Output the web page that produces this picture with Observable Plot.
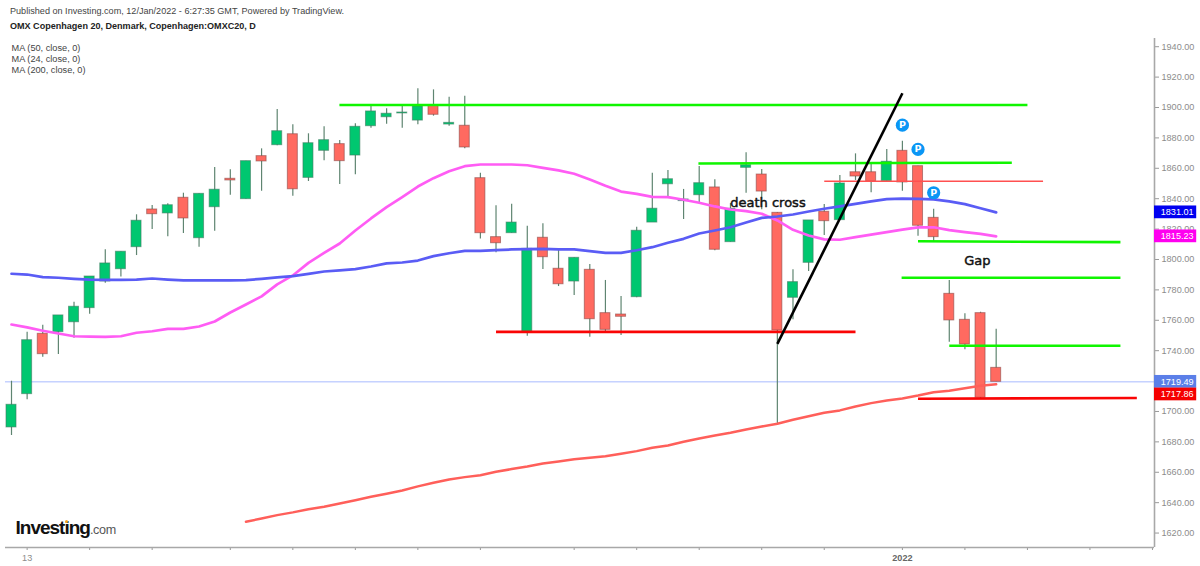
<!DOCTYPE html>
<html><head><meta charset="utf-8">
<script src="https://cdn.jsdelivr.net/npm/d3@7"></script>
<script src="https://cdn.jsdelivr.net/npm/@observablehq/plot@0.6"></script>
<style>
html,body{margin:0;padding:0;background:#fff;overflow:hidden}
#page{position:relative;width:1200px;height:566px;font-family:"Liberation Sans",Arial,sans-serif}
#page svg{position:absolute;left:0;top:0}
.t{position:absolute;white-space:nowrap;z-index:2;line-height:11px}
#pub{left:10px;top:6px;font-size:9.1px;color:#444}
#ttl{left:10px;top:21px;font-size:9.05px;font-weight:bold;color:#222}
.ma{left:11.5px;font-size:9.2px;color:#444}
#logo{left:15.5px;top:520px;line-height:16px;font-size:19px;font-weight:bold;color:#111;letter-spacing:-1px}
#logo span{font-size:12.6px;font-weight:normal;color:#555;letter-spacing:-.3px}
#dot{left:65px;top:519.5px;width:3px;height:3px;border-radius:50%;background:#f5a623}
</style></head><body>
<div id="page">
<div class="t" id="pub">Published on Investing.com, 12/Jan/2022 - 6:27:35 GMT, Powered by TradingView.</div>
<div class="t" id="ttl">OMX Copenhagen 20, Denmark, Copenhagen:OMXC20, D</div>
<div class="t ma" style="top:42.5px">MA (50, close, 0)</div>
<div class="t ma" style="top:53.5px">MA (24, close, 0)</div>
<div class="t ma" style="top:64.5px">MA (200, close, 0)</div>
<div class="t" id="logo">Investing<span>.com</span></div>
<div class="t" id="dot"></div>
</div>
<script>
const opens=[1689.5,1711.4,1751.1,1752.2,1758.7,1768,1785.5,1793.6,1808.1,1832.9,1830.3,1840.6,1814,1834.4,1853.1,1839.7,1868,1875.2,1882.4,1853.7,1871.5,1875.9,1868.4,1887.7,1893.6,1896.1,1891.4,1901.1,1888.8,1888,1853.5,1814.7,1817.3,1751.8,1814.3,1793.9,1785.5,1793.2,1764.7,1763.8,1775.2,1824.3,1849.5,1838.4,1842.3,1847.4,1811.4,1860.3,1855.9,1830.7,1774.8,1797.8,1831.4,1825.9,1857.4,1857.4,1851.5,1871.5,1861.4,1827.4,1777.4,1760.3,1764.7,1728.7];
const highs=[1719.9,1752.2,1756.8,1763.2,1771.9,1788.8,1806.4,1805.1,1829.4,1835.5,1836.6,1843.6,1843.2,1860.5,1859,1864.7,1872.8,1898.7,1888.6,1882.7,1887.3,1878.3,1889.3,1901.3,1899.1,1902,1912.3,1911.6,1906.8,1907.4,1856.8,1835.3,1836.4,1821.9,1823.5,1805.9,1801.1,1796.7,1786.2,1775.7,1821.2,1856.8,1858.6,1846.1,1861.2,1852.4,1836.8,1870.2,1859.2,1830.9,1793.2,1825.7,1836.2,1855.3,1869.5,1863.4,1872.4,1877.8,1861.4,1833.1,1786.2,1764.3,1765.3,1754.1];
const lows=[1684.2,1707.7,1735.7,1737.5,1748.2,1764,1784.4,1788.4,1802.6,1819.7,1814.9,1817.1,1808.1,1818.6,1842.3,1839.7,1844.9,1874.8,1841.6,1851.3,1864.9,1849.3,1855.7,1886.4,1889,1886.4,1888.6,1894.3,1887.7,1872.8,1813.4,1804.4,1817.3,1749.5,1793.4,1782.2,1776.3,1748.9,1751.8,1750,1774.8,1824.3,1840.6,1826.3,1837,1805.7,1811.4,1843.6,1832.7,1690.8,1760.3,1792.1,1815.8,1825.9,1852,1843.9,1851.5,1844.9,1815.3,1811.6,1745.6,1740.6,1708.4,1719.49];
const closes=[1704.4,1746.9,1737.7,1763.2,1768.9,1788.8,1797.4,1805.1,1825.5,1829.8,1835.7,1827,1843.2,1845.9,1852,1864.7,1864.5,1884.4,1846.2,1876.5,1878.5,1864.7,1887.3,1897.4,1895.9,1896.7,1900.7,1895.2,1889.9,1873.7,1817.3,1810.7,1824.3,1807,1801.5,1783.7,1801.1,1760.7,1753.7,1762.3,1818.9,1833.4,1852.8,1839.5,1850.2,1806.4,1833.4,1862,1844.7,1753.3,1785.1,1825.7,1825.2,1850,1854.6,1851.3,1864.3,1850.7,1822.2,1814.7,1759.9,1744.1,1709,1719.49];
const ma50=[1790.6,1790.1,1788.4,1788,1787.3,1786.8,1786.6,1786.6,1786.8,1787.5,1786.8,1786.2,1786.2,1786.2,1786.2,1786.4,1787.3,1788.2,1789.1,1790.5,1792.1,1792.8,1793.7,1795.4,1797.4,1798,1799.3,1802.2,1804.1,1805.7,1805.7,1806.1,1806.6,1806.8,1807,1806.6,1806.6,1805.5,1804.4,1804.4,1806.1,1808.1,1811,1813.6,1817.1,1819.1,1821.2,1824.3,1827.4,1828.3,1829.6,1831.6,1833.4,1834.9,1836.6,1838.2,1839.7,1840.1,1839.9,1839.5,1838.2,1836.4,1833.7,1831.01];
const ma24=[1757.2,1755.3,1753.1,1751.3,1749.5,1749.3,1749.1,1749.5,1751.8,1752.8,1754.4,1754.4,1755.9,1759.2,1765.1,1770.4,1775.7,1783.6,1789.5,1797.8,1804.3,1810.5,1819.1,1827,1834.5,1841.1,1848,1853.5,1858.1,1861.4,1862.5,1862.5,1862.5,1862,1860.3,1858.6,1856.4,1852.6,1848.5,1844.7,1843.2,1841.2,1841,1839.3,1837.3,1834.9,1832.9,1831.8,1830.1,1825.7,1819.5,1815.8,1813.2,1813,1814.7,1816.4,1818,1819.7,1821.1,1821.2,1819.3,1818,1816.9,1815.23];
const ma200Start=15;
const ma200=[1627.4,1629.6,1631.8,1633.6,1635.7,1637.3,1639.5,1641.6,1643.9,1645.9,1648,1650.7,1653.1,1655.3,1656.8,1658.1,1660.3,1662.1,1663.8,1665.8,1667.1,1668.6,1669.5,1670.6,1672.2,1673.9,1676.1,1677.6,1680.1,1682.2,1684.2,1686,1688.2,1690.1,1691.9,1694.5,1696.9,1699.1,1700.7,1703.3,1705.5,1707.2,1708.6,1710.5,1712.7,1713.6,1715.3,1716.9,1717.86];
const yTicks=[1620,1640,1660,1680,1700,1720,1740,1760,1780,1800,1820,1840,1860,1880,1900,1920,1940];
const xTicks=[1,5,9,14,18,22,26,30,36,40,44,48,52,57,61,65,69,73];
const xLabels=[{i:1,label:"13",weight:"normal"},{i:57,label:"2022",weight:"bold"}];
const greenLines=[[20.98,1901.6,65,1901.6],[43.95,1863.2,64,1863.6],[58,1812,70.95,1811.4],[56.95,1788,70.95,1788],[60,1743.2,70.95,1743.2]];
const redLines=[[31,1752.4,54,1752.4],[58,1708.4,72,1708.9]];
const thinRedLines=[[52,1851.5,66,1851.5]];
const trendLines=[[49,1744.5,57,1909.4]];
const pins=[[57,1888.4],[58,1872.4],[59,1843.9]];
const notes=[[48.4,1837.5,"death cross"],[61.8,1799.3,"Gap"]];
const lastPrice=1719.49;
const tags=[{v:1831.01,c:1831.01,fill:"#0000f0"},{v:1815.23,c:1815.23,fill:"#ff00f0"},{v:1719.49,c:1719.49,fill:"#5b7fe8"},{v:1717.86,c:1711.2,fill:"#f50000"}];
const xDomain=[-0.384,73.13], yDomain=[1610.5,1945.4];

const candles=d3.range(opens.length).map(i=>({i,open:opens[i],high:highs[i],low:lows[i],close:closes[i]}));
const up=candles.filter(d=>d.close>=d.open), down=candles.filter(d=>d.close<d.open);
const series=(arr,start=0)=>arr.map((v,k)=>({i:k+start,v}));
const seg=a=>a.map(([x1,y1,x2,y2])=>({x1,y1,x2,y2}));
const link=(a,stroke,w)=>Plot.link(seg(a),{x1:"x1",y1:"y1",x2:"x2",y2:"y2",stroke,strokeWidth:w,strokeLinecap:"butt",markerEnd:"none",clip:false});
const body=(data,fill,stroke)=>Plot.rect(data,{x1:d=>d.i-.32,x2:d=>d.i+.32,y1:"open",y2:"close",fill,stroke,strokeWidth:1,strokeOpacity:.6});

const chart=Plot.plot({
  width:1200,height:566,marginTop:38,marginBottom:19,marginLeft:5,marginRight:46,
  style:{background:"transparent",fontFamily:"Liberation Sans, Arial, sans-serif",overflow:"visible"},
  x:{type:"linear",domain:xDomain,axis:null},
  y:{type:"linear",domain:yDomain,axis:null},
  marks:[
    Plot.ruleY([lastPrice],{stroke:"#a9baff",strokeWidth:1,strokeOpacity:1}),
    Plot.axisY({anchor:"right",ticks:yTicks,tickFormat:d=>d.toFixed(2),tickSize:4,tickPadding:3,label:null,color:"#8c8c8c",fontSize:9.1,stroke:"#999"}),
    Plot.axisX({anchor:"bottom",ticks:xTicks,tickFormat:()=>"",tickSize:3,label:null,stroke:"#999"}),
    Plot.ruleX([xDomain[1]],{stroke:"#a8a8a8",strokeWidth:1.6}),
    Plot.ruleY([yDomain[0]],{stroke:"#a8a8a8",strokeWidth:1.6}),
    Plot.text(xLabels.filter(d=>d.weight==="normal"),{x:"i",frameAnchor:"bottom",text:"label",dy:13,fontSize:9.1,fill:"#8c8c8c"}),
    Plot.text(xLabels.filter(d=>d.weight==="bold"),{x:"i",frameAnchor:"bottom",text:"label",dy:13,fontSize:9.1,fontWeight:"bold",fill:"#666"}),
    Plot.ruleX(candles,{x:"i",y1:"low",y2:"high",stroke:"#5f8571",strokeWidth:1.2}),
    body(up,"#00c770","#3f7a60"),
    body(down,"#ff6a60","#8a4a48"),
    Plot.line(series(ma24),{x:"i",y:"v",stroke:"#ff5cf4",strokeWidth:2.7,strokeLinejoin:"round"}),
    Plot.line(series(ma50),{x:"i",y:"v",stroke:"#5a5cf5",strokeWidth:2.7,strokeLinejoin:"round"}),
    Plot.line(series(ma200,ma200Start),{x:"i",y:"v",stroke:"#ff5f5a",strokeWidth:2.5,strokeLinejoin:"round"}),
    link(greenLines,"#10f500",2.6),
    link(redLines,"#fa0505",2.6),
    link(thinRedLines,"#ff5050",1.5),
    link(trendLines,"#000",2.6),
    Plot.dot(pins,{x:d=>d[0],y:d=>d[1],r:6.6,fill:"#0a96f5"}),
    Plot.text(pins,{x:d=>d[0],y:d=>d[1],text:()=>"P",fill:"#fff",fontSize:9.5,fontWeight:"bold",fontFamily:"DejaVu Sans"}),
    Plot.text(notes,{x:d=>d[0],y:d=>d[1],text:d=>d[2],fill:"#111",fontSize:13,fontFamily:"DejaVu Sans",stroke:"#111",strokeWidth:.45}),
    Plot.rect(tags,{x1:xDomain[1],x2:xDomain[1]+2.7,y1:d=>d.c-4.2,y2:d=>d.c+4.2,fill:d=>d.fill,clip:false}),
    Plot.text(tags,{x:xDomain[1]+.4,y:"c",text:d=>d.v.toFixed(2),textAnchor:"start",fill:"#fff",fontSize:9.1,clip:false})
  ]
});
document.getElementById("page").prepend(chart);
</script>
</body></html>
